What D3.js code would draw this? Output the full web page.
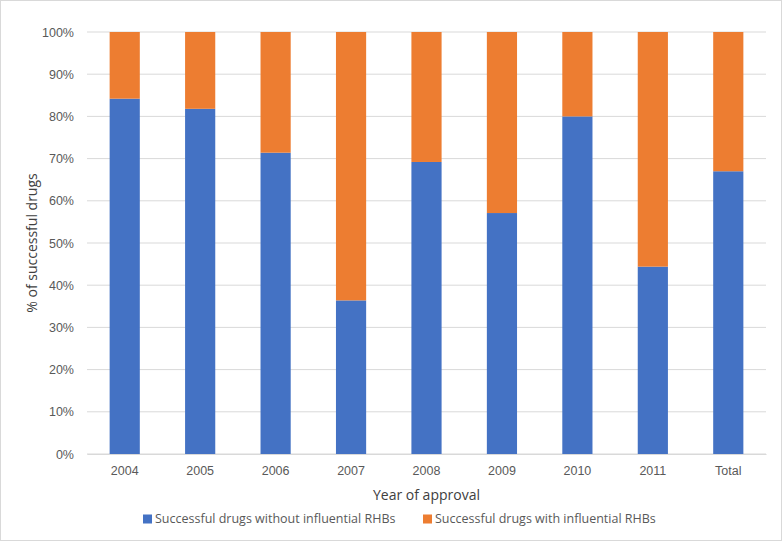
<!DOCTYPE html>
<html lang="en">
<head>
  <meta charset="UTF-8">
  <title>Successful drugs</title>
  <script src="https://cdn.jsdelivr.net/npm/d3@7"></script>
  <style>
    body { margin: 0; background: #fff; }
    svg { font-family: "Open Sans", "Liberation Sans", sans-serif; }
    .tick text { fill: #595959; font-size: 12.5px; }
    .grid line { stroke: #d9d9d9; stroke-width: 1; }
  </style>
</head>
<body>
<svg width="783" height="542"></svg>
<script>
  // categories and series (% without influential RHBs)
  const years = ["2004", "2005", "2006", "2007", "2008", "2009", "2010", "2011", "Total"];
  const withoutRHB = [84.2, 81.8, 71.4, 36.4, 69.2, 57.1, 80.0, 44.4, 67.0];
  const withRHB = withoutRHB.map(v => 100 - v);
  const seriesNames = ["Successful drugs without influential RHBs", "Successful drugs with influential RHBs"];
  const colors = ["#4472c4", "#ed7d31"];
  const yTicks = [0, 10, 20, 30, 40, 50, 60, 70, 80, 90, 100];

  const svg = d3.select("svg");
  const margin = { top: 32, right: 17, bottom: 88, left: 87 };
  const width = 783 - margin.left - margin.right;
  const height = 542 - margin.top - margin.bottom;

  // outer border
  svg.append("rect")
    .attr("x", 0.5).attr("y", 0.5)
    .attr("width", 781).attr("height", 540)
    .attr("fill", "#fff").attr("stroke", "#d9d9d9");

  const g = svg.append("g").attr("transform", `translate(${margin.left},${margin.top})`);

  const x = d3.scaleBand().domain(years).range([0, width]).paddingInner(0.6).paddingOuter(0.3);
  const y = d3.scaleLinear().domain([0, 100]).range([height, 0]);

  // gridlines
  g.append("g").attr("class", "grid")
    .selectAll("line").data(yTicks).join("line")
    .attr("x1", 0).attr("x2", width)
    .attr("y1", d => y(d)).attr("y2", d => y(d));

  const rows = years.map((yr, i) => ({ year: yr, a: withoutRHB[i], b: withRHB[i] }));
  const stack = d3.stack().keys(["a", "b"])(rows);

  g.selectAll("g.series").data(stack).join("g")
    .attr("class", "series")
    .attr("fill", (d, i) => colors[i])
    .selectAll("rect").data(d => d).join("rect")
    .attr("x", d => x(d.data.year))
    .attr("width", x.bandwidth())
    .attr("y", d => y(d[1]))
    .attr("height", d => y(d[0]) - y(d[1]));

  // axes
  const yAxis = g.append("g")
    .call(d3.axisLeft(y).tickValues(yTicks).tickFormat(d => d + "%").tickSize(0).tickPadding(13));
  yAxis.select(".domain").remove();

  const xAxis = g.append("g")
    .attr("transform", `translate(0,${height})`)
    .call(d3.axisBottom(x).tickSize(0).tickPadding(12));
  xAxis.select(".domain").attr("stroke", "#d9d9d9");

  // axis titles
  svg.append("text")
    .attr("x", margin.left + width / 2).attr("y", 500)
    .attr("text-anchor", "middle")
    .attr("fill", "#404040").style("font-size", "14px")
    .text("Year of approval");

  svg.append("text")
    .attr("transform", `translate(37,${margin.top + height / 2}) rotate(-90)`)
    .attr("text-anchor", "middle")
    .attr("fill", "#404040").style("font-size", "14px")
    .text("% of successful drugs");

  // legend
  const legendX = [143, 423];
  const legend = svg.append("g").selectAll("g").data(seriesNames).join("g")
    .attr("transform", (d, i) => `translate(${legendX[i]},519)`);
  legend.append("rect")
    .attr("x", 0).attr("y", -4.5).attr("width", 9).attr("height", 9)
    .attr("fill", (d, i) => colors[i]);
  legend.append("text")
    .attr("x", 12).attr("y", 0).attr("dy", "0.35em")
    .attr("fill", "#595959").style("font-size", "12.5px")
    .text(d => d);
</script>
</body>
</html>
